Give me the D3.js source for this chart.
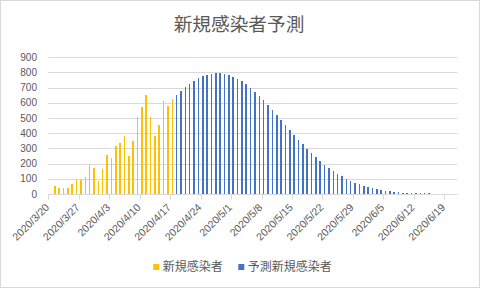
<!DOCTYPE html>
<html><head><meta charset="utf-8">
<script src="https://cdn.jsdelivr.net/npm/d3@7"></script>
<style>
html,body{margin:0;padding:0;background:#fff;}
svg{display:block;}
</style></head>
<body>
<script>
// ---- data ----
const title = "新規感染者予測";
const seriesNames = ["新規感染者", "予測新規感染者"];
const axisStart = "2020-03-20";
const axisEnd = "2020-06-21";
const actualStart = "2020-03-21";
const actualValues = [55,42,42,42,66,99,94,114,191,173,88,167,259,239,318,336,384,252,351,509,575,654,507,384,457,615,582,628];
const forecastStart = "2020-04-18";
const forecastValues = [654,681,707,727,746,766,779,786,793,799,799,793,786,773,760,744,727,700,674,648,619,588,555,522,490,457,424,391,358,329,299,272,246,220,191,173,151,132,
119,99,86,72,66,53,46,40,33,26,20,20,13,13,7,7,7,7,5,4,4,3,3,3,2,2,2];
const yTicks = [0,100,200,300,400,500,600,700,800,900];
const colors = ["#FFC000", "#4472C4"];

// ---- layout ----
const W = 480, H = 288;
const plot = {l: 48.3, r: 457.3, t: 57.3, b: 194};
const parse = d3.utcParse("%Y-%m-%d");
const fmt = d3.utcFormat("%Y/%-m/%-d");
const days = d3.utcDay.range(parse(axisStart), d3.utcDay.offset(parse(axisEnd), 1));
const keys = days.map(d => +d);

const svg = d3.select("body").append("svg").attr("width", W).attr("height", H);
svg.append("rect").attr("x",0.5).attr("y",0.5).attr("width",W-1).attr("height",H-1)
  .attr("fill","#fff").attr("stroke","#d9d9d9");

const pad = 0.64;
const x = d3.scaleBand().domain(keys).range([plot.l, plot.r]).paddingInner(pad).paddingOuter(pad/2);
const step = x.step();
const y = d3.scaleLinear().domain([0, 900]).range([plot.b, plot.t]);

// gridlines
svg.append("g").selectAll("line").data(yTicks.slice(1)).join("line")
  .attr("x1", plot.l).attr("x2", plot.r)
  .attr("y1", d => Math.round(y(d)) + 0.5).attr("y2", d => Math.round(y(d)) + 0.5)
  .attr("stroke", "#d9d9d9").attr("stroke-width", 1);

// y labels
svg.append("g").selectAll("text").data(yTicks).join("text")
  .attr("x", 37).attr("y", d => y(d)).attr("dy", "0.35em")
  .attr("text-anchor", "end")
  .attr("font-family", "Liberation Sans, Arial, sans-serif").attr("font-size", 10)
  .attr("fill", "#595959").text(d => d);

// bars
function series(startStr, vals) {
  const s = parse(startStr);
  return vals.map((v, i) => ({key: +d3.utcDay.offset(s, i), v}));
}
const sets = [series(actualStart, actualValues), series(forecastStart, forecastValues)];
sets.forEach((data, si) => {
  svg.append("g").selectAll("rect").data(data).join("rect")
    .attr("x", d => x(d.key)).attr("width", x.bandwidth())
    .attr("y", d => y(d.v)).attr("height", d => y(0) - y(d.v))
    .attr("fill", colors[si]).attr("shape-rendering", "crispEdges");
});

// x axis line
const yb = Math.round(plot.b) + 0.5;
svg.append("line").attr("x1", plot.l).attr("x2", plot.r).attr("y1", yb).attr("y2", yb)
  .attr("stroke", "#d9d9d9");

// ticks every 7 days
const tickKeys = keys.filter((k, i) => i % 7 === 0);
const tickX = k => x(k) - step*pad/2;
svg.append("g").selectAll("line").data(tickKeys).join("line")
  .attr("x1", d => Math.round(tickX(d)) + 0.5).attr("x2", d => Math.round(tickX(d)) + 0.5)
  .attr("y1", yb).attr("y2", yb + 5)
  .attr("stroke", "#d9d9d9");
svg.append("g").selectAll("text").data(tickKeys).join("text")
  .attr("transform", d => `translate(${tickX(d) - 1},${plot.b + 11.5}) rotate(-45)`)
  .attr("text-anchor", "end").attr("dy", "0.35em")
  .attr("font-family", "Liberation Sans, Arial, sans-serif").attr("font-size", 10.5)
  .attr("fill", "#595959").text(d => fmt(new Date(d)));

// title
svg.append("text").attr("x", 239).attr("y", 24).attr("dy", "0.35em")
  .attr("text-anchor", "middle")
  .attr("font-family", "Noto Sans CJK JP, sans-serif").attr("font-size", 18.67)
  .attr("fill", "#595959").text(title);

// legend
const legendItems = [{x: 153.3, name: seriesNames[0], c: colors[0]}, {x: 238.3, name: seriesNames[1], c: colors[1]}];
const lg = svg.append("g");
legendItems.forEach(it => {
  lg.append("rect").attr("x", it.x).attr("y", 264).attr("width", 6).attr("height", 6).attr("fill", it.c);
  lg.append("text").attr("x", it.x + 9.5).attr("y", 267).attr("dy", "0.35em")
    .attr("font-family", "Noto Sans CJK JP, sans-serif").attr("font-size", 12)
    .attr("fill", "#595959").text(it.name);
});
</script>
</body></html>
